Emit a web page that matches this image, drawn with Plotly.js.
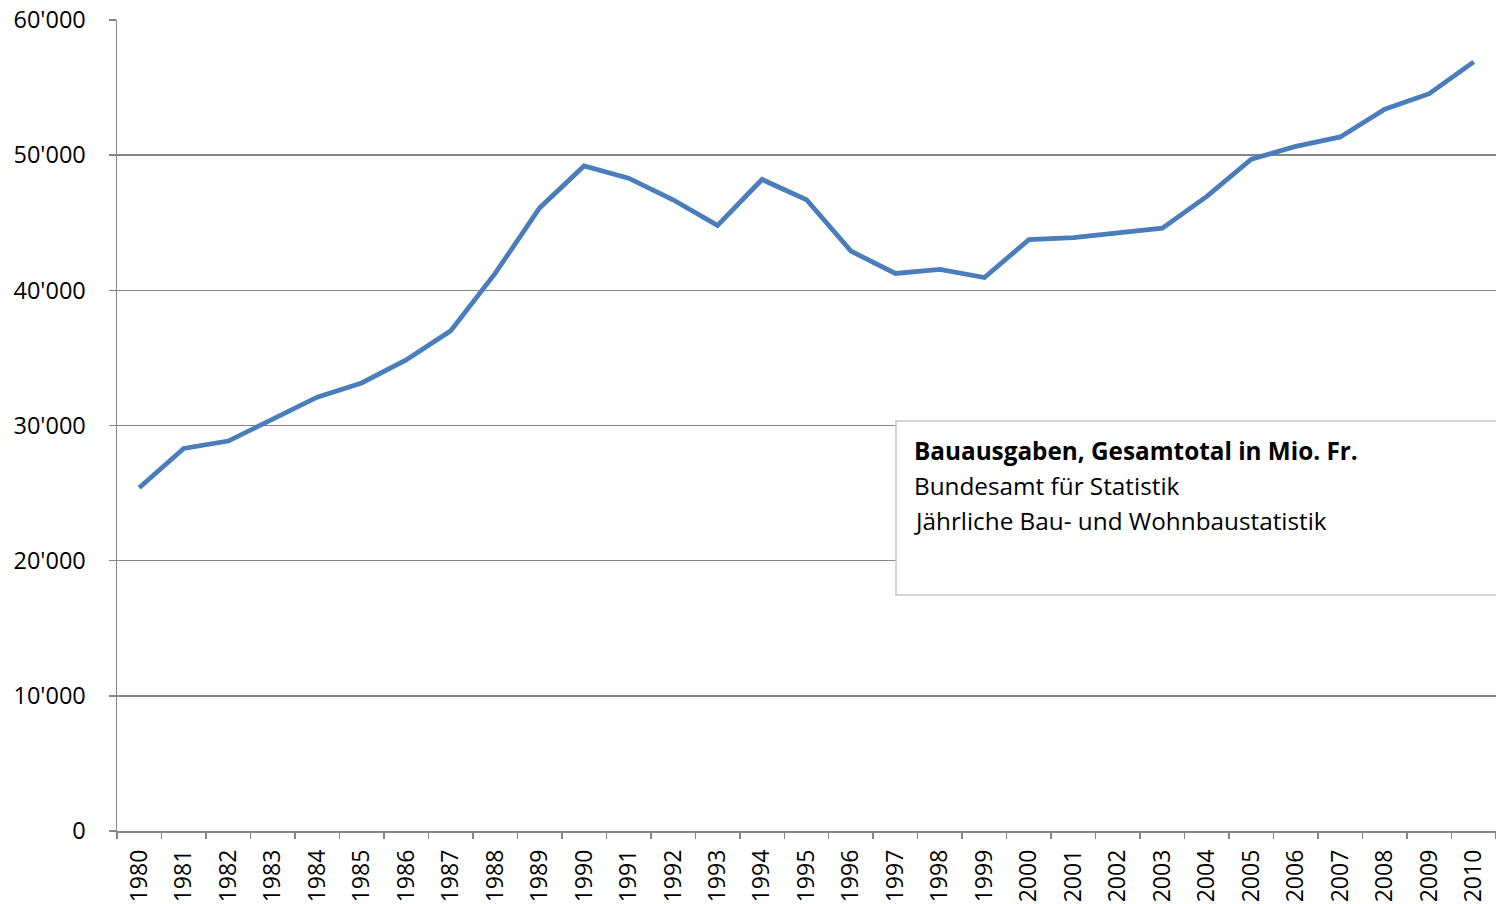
<!DOCTYPE html>
<html><head><meta charset="utf-8">
<script src="https://cdn.plot.ly/plotly-3.0.1.min.js"></script>
<style>html,body{margin:0;padding:0;background:#fff}#chart{width:1496px;height:904px}</style>
</head><body><div id="chart"></div>
<script>
const years = ['1980','1981','1982','1983','1984','1985','1986','1987','1988','1989','1990','1991','1992','1993','1994','1995','1996','1997','1998','1999','2000','2001','2002','2003','2004','2005','2006','2007','2008','2009','2010'];
const bauausgaben = [25400,28300,28850,30450,32100,33150,34850,37000,41250,46100,49200,48300,46700,44800,48200,46700,42900,41250,41550,40950,43750,43900,44250,44600,46950,49700,50650,51350,53400,54550,56900];
const boxLines = ['<b>Bauausgaben, Gesamtotal in Mio. Fr.</b>','Bundesamt für Statistik','Jährliche Bau- und Wohnbaustatistik'];

const W = 1496, H = 904, L = 117, R = 0, T = 20, B = 73;
const pw = W - L - R, ph = H - T - B;
const px = x => (x - L) / pw;
const py = y => (H - B - y) / ph;

const annotations = boxLines.map((t, i) => ({
  xref: 'paper', yref: 'paper', x: px(912), y: py(432 + i * 35),
  xanchor: 'left', yanchor: 'top', showarrow: false, align: 'left',
  text: t, font: {family: 'Open Sans, sans-serif', size: 24.3, color: '#000'}
}));

Plotly.newPlot('chart', [{
  x: years, y: bauausgaben, type: 'scatter', mode: 'lines',
  line: {color: '#4a7ebb', width: 4.8}, hoverinfo: 'skip'
}], {
  width: W, height: H,
  margin: {l: L, r: R, t: T, b: B},
  paper_bgcolor: '#fff', plot_bgcolor: '#fff',
  separators: ".'",
  showlegend: false,
  font: {family: 'Open Sans, sans-serif', size: 22, color: '#000'},
  xaxis: {
    type: 'category', range: [-0.5, 30.5], tickangle: -90,
    ticks: 'outside', ticklen: 6, tickcolor: '#868686', tickwidth: 1.5,
    tickson: 'boundaries', showgrid: false, showline: true,
    linecolor: '#868686', linewidth: 1.5, zeroline: false,
    ticklabelstandoff: 8,
    tickfont: {family: 'Open Sans, sans-serif', size: 23, color: '#000'}
  },
  yaxis: {
    range: [0, 60000], dtick: 10000, tickformat: ',d',
    ticks: 'outside', ticklen: 7, tickcolor: '#868686', tickwidth: 1.5,
    showgrid: true, gridcolor: '#868686', gridwidth: 1.5,
    showline: true, linecolor: '#868686', linewidth: 1.5, zeroline: false,
    ticklabelstandoff: 18,
    tickfont: {family: 'Open Sans, sans-serif', size: 23.5, color: '#000'}
  },
  shapes: [{
    type: 'rect', xref: 'paper', yref: 'paper', layer: 'above',
    x0: px(896), x1: px(1510), y0: py(595), y1: py(421),
    fillcolor: '#fff', line: {color: '#c6c6c6', width: 1.5}
  }],
  annotations: annotations
}, {displayModeBar: false, staticPlot: true});
</script></body></html>
